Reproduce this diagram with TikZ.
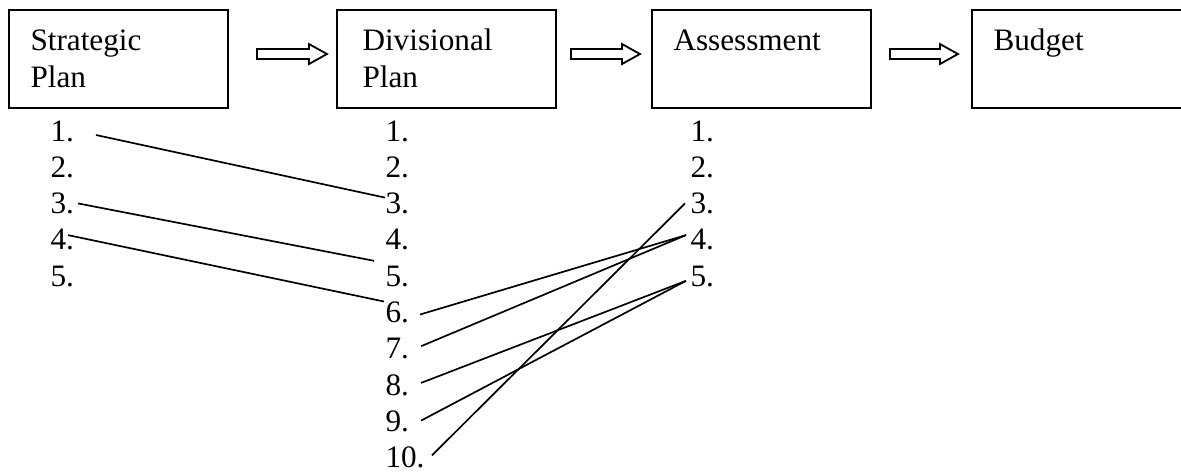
\documentclass[tikz,border=0pt]{standalone}
\usepackage{fontspec}
\setmainfont{Liberation Serif}
\usetikzlibrary{calc,positioning}

\begin{document}
\begin{tikzpicture}[x=0.3846pt,y=-0.3846pt,font=\fontsize{12pt}{14.2pt}\selectfont]
        % Styles
        \tikzstyle{stage}=[draw,line width=0.8pt,anchor=north west,inner sep=0pt,outer sep=0pt,minimum width=84.2pt,minimum height=37.7pt]
        \tikzstyle{stage text}=[anchor=base west,align=left,inner sep=0pt]
        \tikzstyle{stage arrow}=[draw,line width=0.7pt,line join=miter]
        \tikzstyle{item}=[anchor=base west,inner sep=0pt]
        \tikzstyle{link}=[line width=0.65pt]
        %The graphic
        \clip (0,0) rectangle (1181,473);
        %boxes
        \node[stage] (sp) at (9,10) {};
        \node[stage] (dp) at (337,10) {};
        \node[stage] (as) at (652,10) {};
        \node[stage,minimum width=88pt] (bu) at (972,10) {};
        %box texts (base = last line)
        \node[stage text] (sptext) at ([shift={(21,77)}]sp.north west) {Strategic\\Plan};
        \node[stage text] (dptext) at ([shift={(25,77)}]dp.north west) {Divisional\\Plan};
        \node[stage text] (astext) at ([shift={(21,40)}]as.north west) {Assessment};
        \node[stage text] (butext) at ([shift={(21,40)}]bu.north west) {Budget};
        %arrows between the boxes
        \foreach \a/\b/\g/\h in {sp/dp/29/10, dp/as/15/12, as/bu/19/14}
        \draw[stage arrow] let \p1=($(\a.east)+(\g,-5)$), \p2=($(\b.west)+(-\h,-5)$) in
            ($(\p1)+(0,-5)$) -- ($(\x2,\y1)+(-18,-5)$) -- ($(\x2,\y1)+(-18,-10)$) -- (\x2,\y1)
            -- ($(\x2,\y1)+(-18,10)$) -- ($(\x2,\y1)+(-18,5)$) -- ($(\p1)+(0,5)$) -- cycle;
        %numbered items
        \foreach \n in {1,...,5}
        \node[item] (s\n) at (50,{141+36.3*(\n-1)}) {\n.};
        \foreach \n in {1,...,10}
        \node[item] (d\n) at (385,{141+36.3*(\n-1)}) {\n.};
        \foreach \n in {1,...,5}
        \node[item] (a\n) at (690,{141+36.3*(\n-1)}) {\n.};
        %links strategic -> divisional
        \draw[link] ($(s1.base east)+(21.6,-6)$) -- ($(d3.base west)+(0,-16)$);
        \draw[link] ($(s3.base east)+(3.6,-10.2)$) -- ($(d5.base west)+(-11,-25.4)$);
        \draw[link] ($(s4.base east)+(-6.4,-14.8)$) -- ($(d6.base west)+(-1,-21)$);
        %links divisional -> assessment
        \draw[link] ($(d6.base east)+(10.6,-8)$) -- ($(a4.base west)+(-4,-14.8)$);
        \draw[link] ($(d7.base east)+(11.6,-12.6)$) -- ($(a4.base west)+(-4,-14.8)$);
        \draw[link] ($(d8.base east)+(11.6,-12.2)$) -- ($(a5.base west)+(-4,-5.4)$);
        \draw[link] ($(d9.base east)+(11.6,-10.8)$) -- ($(a5.base west)+(-4,-5.4)$);
        \draw[link] ($(d10.base east)+(7,-12.4)$) -- ($(a3.base west)+(-5,-10.2)$);
\end{tikzpicture}
\end{document}
